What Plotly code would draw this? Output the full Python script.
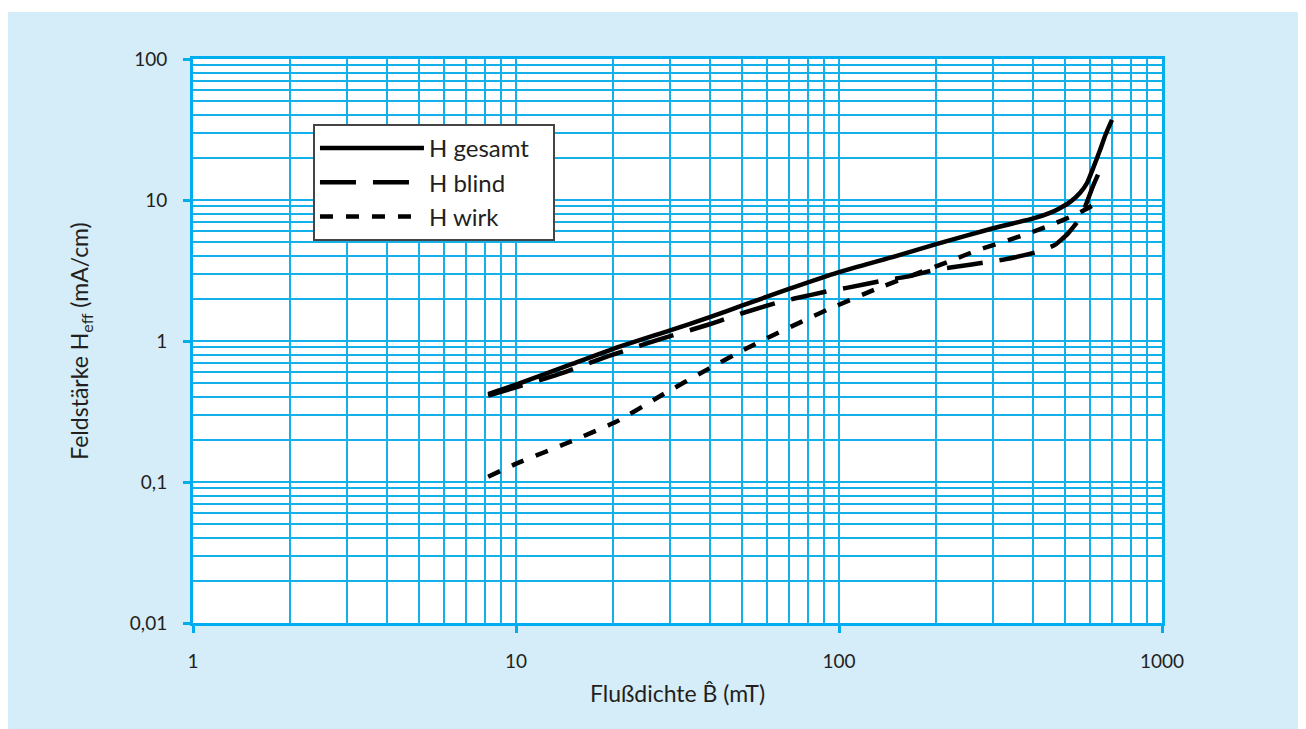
import plotly.graph_objects as go

# ---- data ----
B_gesamt = [8.2, 10, 15, 20, 30, 40, 50, 70, 100, 150, 200, 300, 400, 450, 483, 520, 557, 586, 610, 643, 668, 700]
H_gesamt = [0.42, 0.49, 0.69, 0.88, 1.19, 1.48, 1.78, 2.34, 3.08, 4.0, 4.87, 6.3, 7.4, 8.1, 8.75, 9.7, 11.2, 13.2, 16.5, 22.6, 28.9, 37.0]

B_blind = [8.2, 10, 13.5, 19.3, 27.5, 40, 50.4, 65, 72.8, 93.8, 105.6, 137, 162.6, 198, 224, 289, 326, 413, 466, 512, 557, 586, 610, 643]
H_blind = [0.41, 0.47, 0.58, 0.78, 1.02, 1.32, 1.58, 1.88, 2.0, 2.27, 2.38, 2.68, 2.86, 3.2, 3.33, 3.63, 3.79, 4.3, 4.8, 5.8, 7.4, 9.7, 12.4, 16.3]

B_wirk = [8.2, 10.1, 14.4, 20.4, 28.3, 39.3, 50, 62.5, 91.8, 131, 222, 266, 382, 457, 545, 657]
H_wirk = [0.109, 0.136, 0.189, 0.267, 0.414, 0.632, 0.85, 1.10, 1.66, 2.35, 3.71, 4.37, 5.74, 6.70, 7.96, 10.0]

series_names = ["H gesamt", "H blind", "H wirk"]

x_tickvals = [1, 10, 100, 1000]
x_ticktext = ["1", "10", "100", "1000"]
y_tickvals = [0.01, 0.1, 1, 10, 100]
y_ticktext = ["0,01", "0,1", "1", "10", "100"]

x_minor = [m * 10 ** e for e in range(0, 3) for m in range(2, 10)]
y_minor = [m * 10.0 ** e for e in range(-2, 2) for m in range(2, 10)]

# ---- style ----
FONT = "Lato"
BG = "#d5ecf9"
AXIS = "#00aeef"
GRID = "#14b0ea"
TXT = "#231f20"
PAD = "\u00a0\u00a0\u00a0"

fig = go.Figure()
fig.add_trace(go.Scatter(x=B_gesamt, y=H_gesamt, mode="lines", name=series_names[0] + PAD,
                         line=dict(color="black", width=4.5, shape="spline", smoothing=0.5)))
fig.add_trace(go.Scatter(x=B_blind, y=H_blind, mode="lines", name=series_names[1] + PAD,
                         line=dict(color="black", width=4.5, dash="36px,17px", shape="spline", smoothing=0.5)))
fig.add_trace(go.Scatter(x=B_wirk, y=H_wirk, mode="lines", name=series_names[2] + PAD,
                         line=dict(color="black", width=4.5, dash="13px,13px", shape="spline", smoothing=0.5)))

axis_common = dict(
    type="log",
    showline=True, linecolor=AXIS, linewidth=3, mirror=True,
    ticks="outside", ticklen=7, tickwidth=3, tickcolor=AXIS,
    showgrid=True, gridcolor=GRID, gridwidth=1.5,
    zeroline=False,
    tickfont=dict(family=FONT, size=19, color=TXT),
)

fig.update_xaxes(
    **axis_common,
    range=[0, 3],
    tickmode="array", tickvals=x_tickvals, ticktext=x_ticktext,
    minor=dict(tickvals=x_minor, showgrid=True, gridcolor=GRID, gridwidth=1.5, ticks=""),
    ticklabelstandoff=12,
    title=dict(text="Flußdichte B\u0302 (mT)", font=dict(family=FONT, size=23, color=TXT), standoff=16),
)
fig.update_yaxes(
    **axis_common,
    range=[-2, 2],
    tickmode="array", tickvals=y_tickvals, ticktext=y_ticktext,
    minor=dict(tickvals=y_minor, showgrid=True, gridcolor=GRID, gridwidth=1.5, ticks=""),
    ticklabelstandoff=12,
    title=dict(text="Feldstärke H<sub>eff</sub> (mA/cm)", font=dict(family=FONT, size=23, color=TXT), standoff=35),
)

fig.update_layout(
    width=1298, height=721, autosize=False,
    margin=dict(l=185, r=144, t=51, b=106),
    paper_bgcolor=BG, plot_bgcolor="white",
    font=dict(family=FONT, color=TXT),
    showlegend=True,
    legend=dict(
        x=0.1238, y=0.8848, xanchor="left", yanchor="top",
        bgcolor="white", bordercolor="#444444", borderwidth=2,
        font=dict(family=FONT, size=24, color=TXT),
        itemwidth=104, tracegroupgap=0,
    ),
    shapes=[
        dict(type="rect", xref="paper", yref="paper", x0=-0.3, x1=1.3, y0=(564 + 51 - 4) / 564, y1=1.3,
             fillcolor="white", line=dict(width=0), layer="above"),
    ],
)

fig.write_html("out.html")
